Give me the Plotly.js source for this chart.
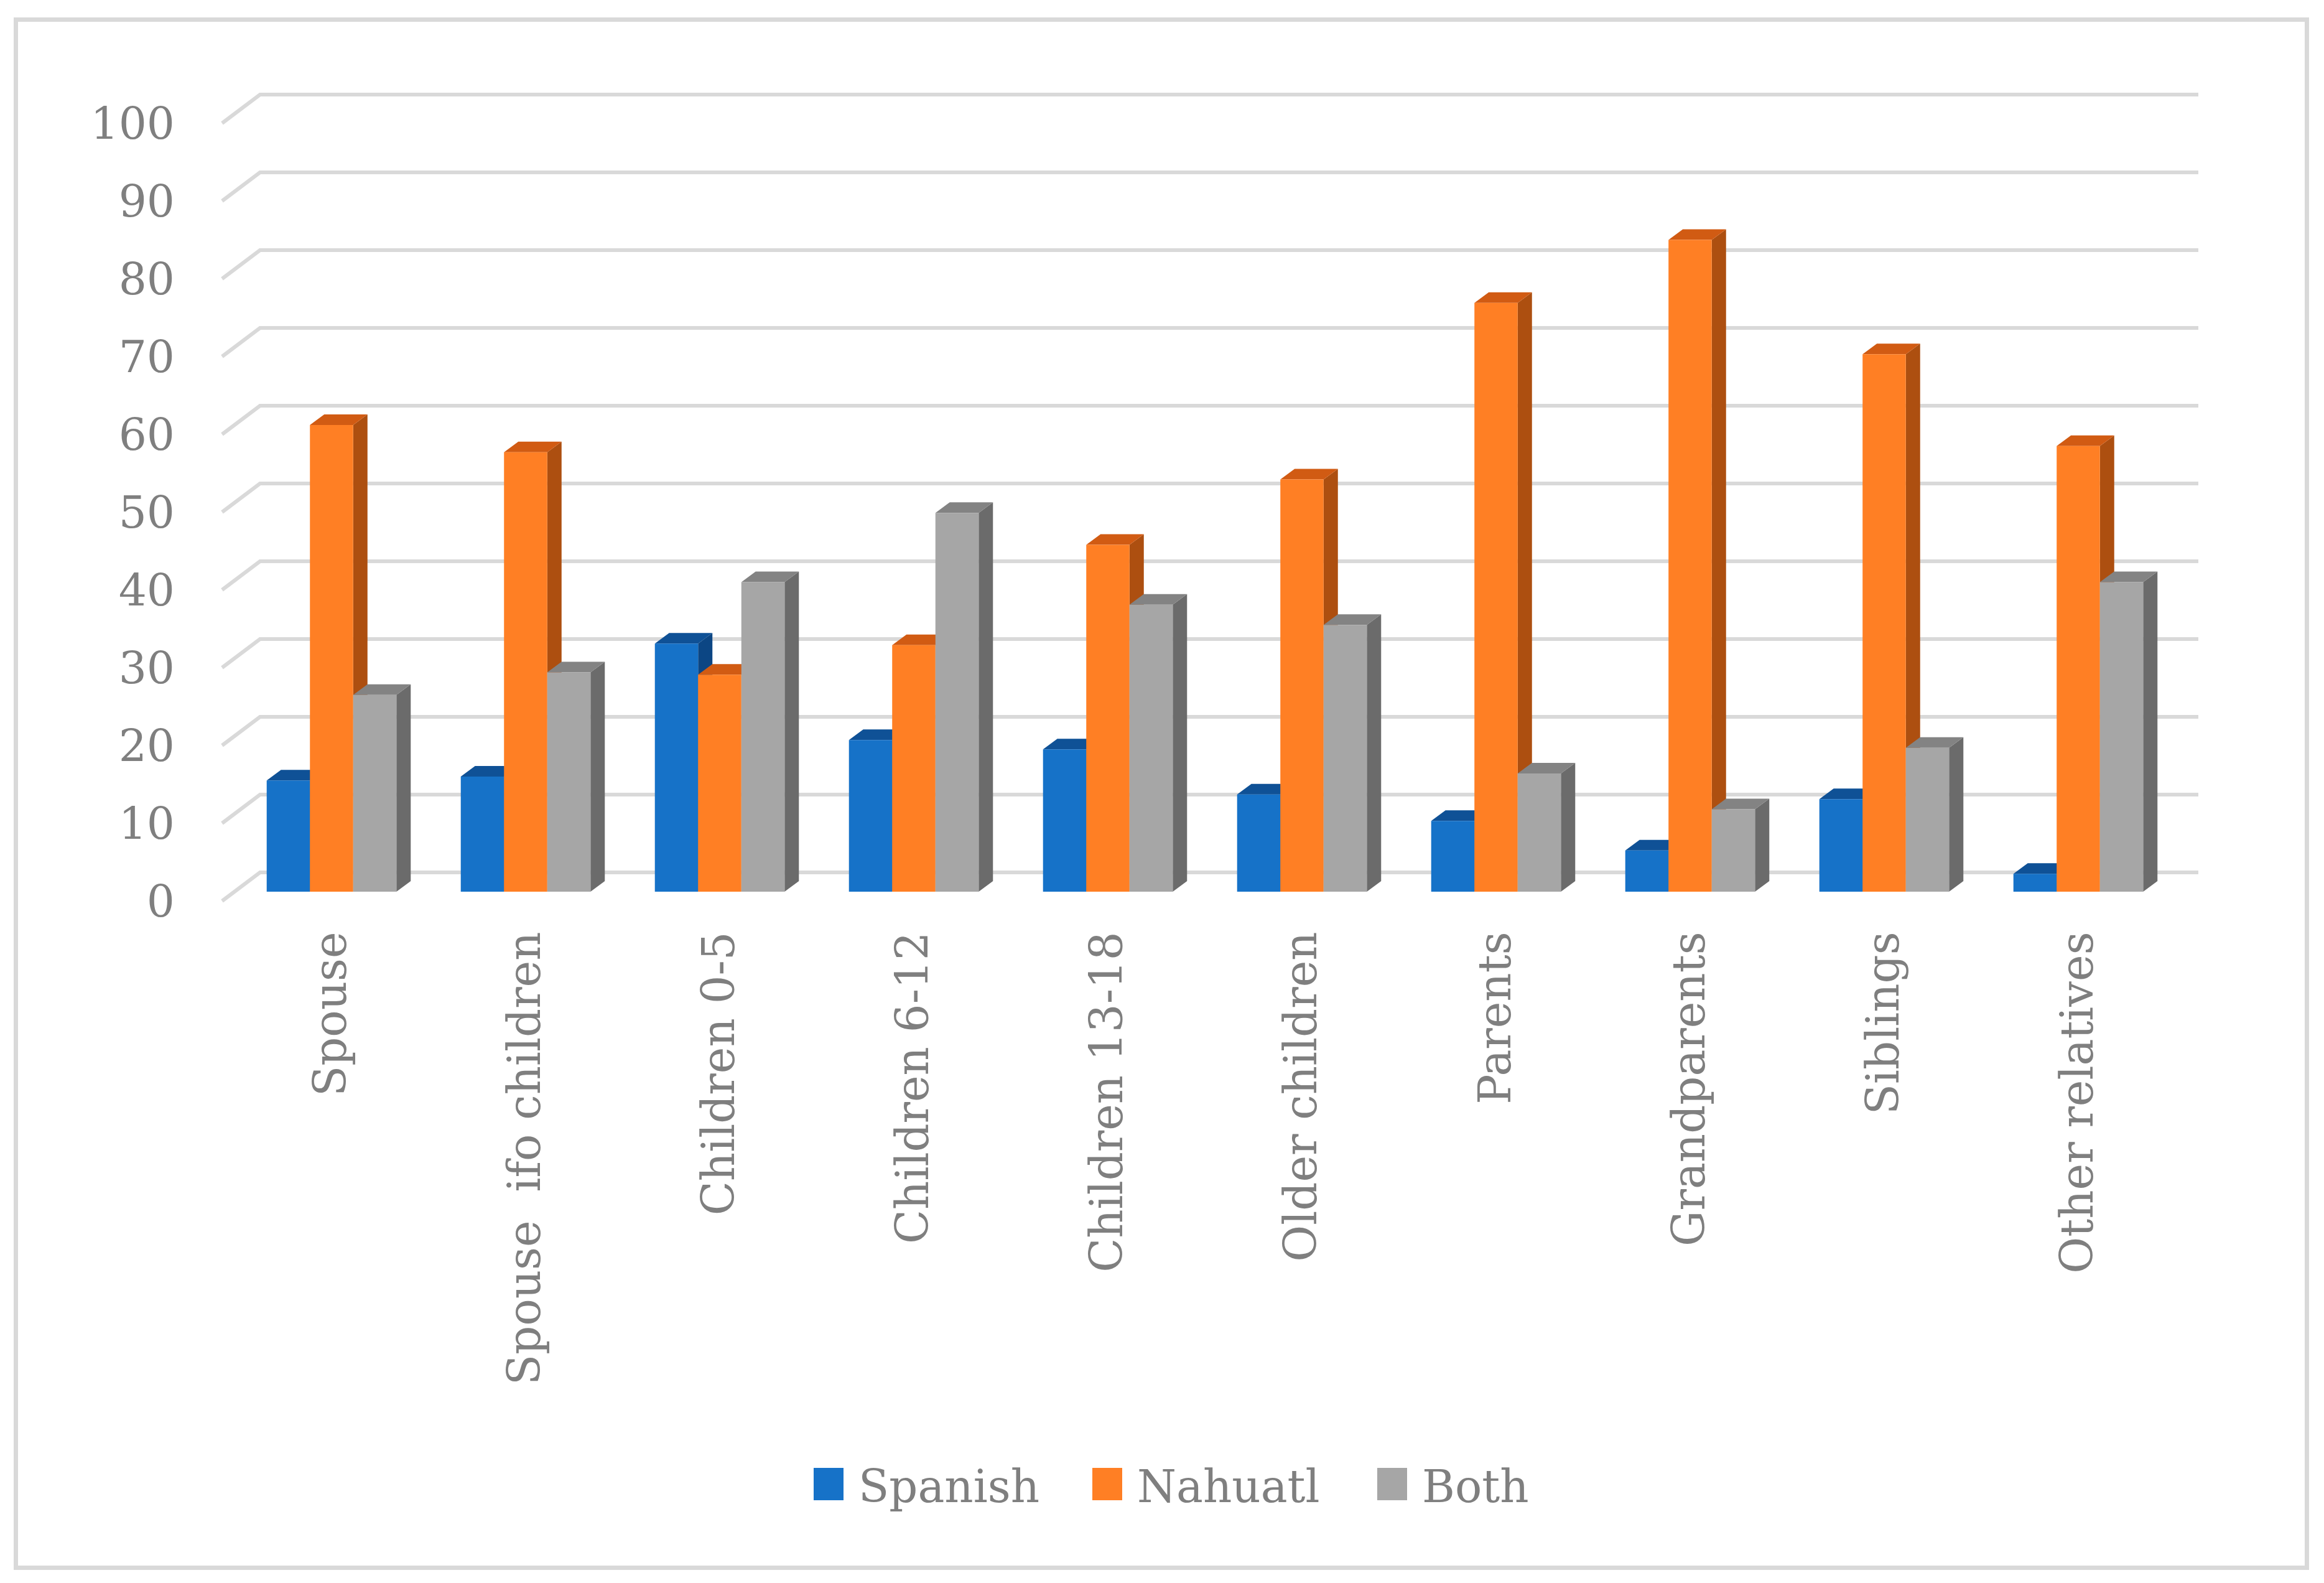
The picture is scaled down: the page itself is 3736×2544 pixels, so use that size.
<!DOCTYPE html>
<html>
<head>
<meta charset="utf-8">
<script src="https://cdn.plot.ly/plotly-3.0.1.min.js"></script>
<style>
  html, body { margin: 0; padding: 0; background: #fff; }
  #chart { width: 3736px; height: 2544px; }
  #frame {
    position: absolute; left: 22px; top: 28px; width: 3690px; height: 2495px;
    border: 7px solid #d9d9d9; box-sizing: border-box; pointer-events: none;
  }
</style>
</head>
<body>
<div id="chart"></div>
<div id="frame"></div>
<script>
// data (percent)
const categories = ['Spouse', 'Spouse\u00a0 ifo children', 'Children 0-5', 'Children 6-12', 'Children 13-18',
    'Older children', 'Parents', 'Grandparents', 'Siblings', 'Other relatives'];
const spanish = [14.3, 14.8, 31.9, 19.5, 18.3, 12.5, 9.1, 5.3, 11.9, 2.3];
const nahuatl = [60.0, 56.5, 27.9, 31.7, 44.6, 53.0, 75.7, 83.8, 69.1, 57.3];
const both = [25.3, 28.2, 39.8, 48.7, 36.9, 34.3, 15.2, 10.6, 18.5, 39.8];
const seriesNames = ['Spanish', 'Nahuatl', 'Both'];
const yTicks = [0, 10, 20, 30, 40, 50, 60, 70, 80, 90, 100];

// colours: front, top, side
const faceColors = [
    ['#1672c8', '#0f5196', '#0c4684'],
    ['#ff7f24', '#d15b13', '#ad4f10'],
    ['#a6a6a6', '#838383', '#6b6b6b'],
];
const textColor = '#7f7f7f';
const gridColor = '#d9d9d9';
const fontFamily = "'Palatino Linotype', 'Book Antiqua', Palatino, 'DejaVu Serif', serif";

// geometry of the fake 3d view (pixels)
const plotL = 300, plotR = 3600, plotT = 100, plotB = 1482;
const pxPerCat = 312, pxPerUnit = 12.5;
const cat0Left = 377;      // left edge of the first category slot on the bar plane
const barZero = 1433;      // baseline of the bar fronts
const barW = 0.2228;       // bar width in category units
const depthX = 23 / pxPerCat, depthY = 17 / pxPerUnit;
const wallX = 41 / pxPerCat, wallY = 31 / pxPerUnit;     // back wall offset
const frontX = -20 / pxPerCat, frontY = -15 / pxPerUnit; // front edge offset
const wallRight = -0.5 + (3534 - cat0Left) / pxPerCat;

const xRange = [-0.5 - (cat0Left - plotL) / pxPerCat, -0.5 + (plotR - cat0Left) / pxPerCat];
const yBarRange = [(barZero - plotB) / pxPerUnit, (barZero - plotT) / pxPerUnit];
// the label axis sits on the front edge, so its values are shifted by frontY
const yLabRange = [yBarRange[0] - frontY, yBarRange[1] - frontY];

const seriesValues = [spanish, nahuatl, both];
const idx = categories.map((c, i) => i);

// grid on the label axis: front diagonal + back wall line for each tick
const gx = [], gy = [];
yTicks.forEach(v => {
    gx.push(-0.5 + frontX, -0.5 + wallX, wallRight, null);
    gy.push(v, v + wallY - frontY, v + wallY - frontY, null);
});

const traces = [{
    type: 'scatter', mode: 'lines', x: gx, y: gy, xaxis: 'x', yaxis: 'y',
    line: {color: gridColor, width: 6}, hoverinfo: 'skip', showlegend: false,
}];

// top and side faces
seriesValues.forEach((vals, k) => {
    const tx = [], ty = [], sx = [], sy = [];
    vals.forEach((h, i) => {
        const xl = i + (k - 1) * barW - barW / 2;
        const xr = xl + barW;
        tx.push(xl, xr, xr + depthX, xl + depthX, xl, null);
        ty.push(h, h, h + depthY, h + depthY, h, null);
        sx.push(xr, xr, xr + depthX, xr + depthX, xr, null);
        sy.push(0, h, h + depthY, depthY, 0, null);
    });
    traces.push({
        type: 'scatter', mode: 'none', fill: 'toself', x: sx, y: sy, xaxis: 'x', yaxis: 'y2',
        fillcolor: faceColors[k][2], hoverinfo: 'skip', showlegend: false,
    });
    traces.push({
        type: 'scatter', mode: 'none', fill: 'toself', x: tx, y: ty, xaxis: 'x', yaxis: 'y2',
        fillcolor: faceColors[k][1], hoverinfo: 'skip', showlegend: false,
    });
});

// front faces
seriesValues.forEach((vals, k) => {
    traces.push({
        type: 'bar', name: seriesNames[k], x: idx, y: vals, xaxis: 'x', yaxis: 'y3',
        marker: {color: faceColors[k][0], line: {width: 0}}, showlegend: false,
    });
});

// legend drawn by hand so the swatches can be large
const toPaperX = px => (px - plotL) / (plotR - plotL);
const toPaperY = py => (plotB - py) / (plotB - plotT);
const legendSwatchX = [1308, 1756, 2214];
const legendTop = 2359, legendBottom = 2411, swatchW = 48;
const shapes = [], annotations = [];
seriesNames.forEach((name, k) => {
    const x0 = legendSwatchX[k];
    shapes.push({
        type: 'rect', xref: 'paper', yref: 'paper', layer: 'above',
        x0: toPaperX(x0), x1: toPaperX(x0 + swatchW),
        y0: toPaperY(legendBottom), y1: toPaperY(legendTop),
        fillcolor: faceColors[k][0], line: {width: 0},
    });
    annotations.push({
        xref: 'paper', yref: 'paper', x: toPaperX(x0 + swatchW + 22), y: toPaperY((legendTop + legendBottom) / 2 + 4),
        xanchor: 'left', yanchor: 'middle', showarrow: false, text: name,
        font: {family: fontFamily, size: 72, color: textColor},
    });
});

const layout = {
    width: 3736, height: 2544,
    margin: {l: plotL, r: 3736 - plotR, t: plotT, b: 2544 - plotB, pad: 0},
    paper_bgcolor: '#ffffff', plot_bgcolor: 'rgba(0,0,0,0)',
    font: {family: fontFamily, size: 72, color: textColor},
    barmode: 'group', bargap: 1 - 3 * barW, bargroupgap: 0,
    showlegend: false,
    xaxis: {
        range: xRange, tickvals: idx, ticktext: categories, tickangle: -90,
        showgrid: false, zeroline: false, showline: false, ticks: '', fixedrange: true,
        tickfont: {family: fontFamily, size: 72, color: textColor},
    },
    yaxis: {
        range: yLabRange, tickvals: yTicks, showgrid: false, zeroline: false, showline: false,
        ticks: '', fixedrange: true, ticklabelstandoff: 18,
        tickfont: {family: fontFamily, size: 71, color: textColor},
    },
    yaxis2: {overlaying: 'y', anchor: 'x', range: yBarRange, visible: false, fixedrange: true},
    yaxis3: {overlaying: 'y', anchor: 'x', range: yBarRange, visible: false, fixedrange: true},
    shapes: shapes,
    annotations: annotations,
};

Plotly.newPlot('chart', traces, layout, {staticPlot: true});
</script>
</body>
</html>
